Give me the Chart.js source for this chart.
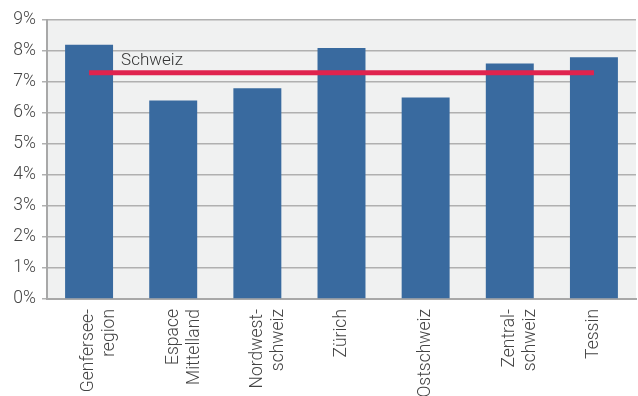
<!DOCTYPE html>
<html>
<head>
<meta charset="utf-8">
<script src="https://cdn.jsdelivr.net/npm/chart.js@4/dist/chart.umd.min.js"></script>
<style>
  html, body { margin: 0; padding: 0; background: #fff; }
  #wrap { width: 638px; height: 396px; }
</style>
</head>
<body>
<div id="wrap"><canvas id="chart"></canvas></div>
<script>
// Regionen und Werte
const regions = [
  ["Genfersee-", "region"],
  ["Espace", "Mittelland"],
  ["Nordwest-", "schweiz"],
  "Zürich",
  "Ostschweiz",
  ["Zentral-", "schweiz"],
  "Tessin"
];
const regionValues = [8.2, 6.4, 6.8, 8.1, 6.5, 7.6, 7.8];
const schweizValue = 7.3;
const schweizLabel = "Schweiz";
const yTicks = [0, 1, 2, 3, 4, 5, 6, 7, 8, 9];

const plotBg = {
  id: "plotBg",
  beforeDraw(chart) {
    const { ctx, chartArea: a } = chart;
    ctx.save();
    ctx.fillStyle = "#f0f1f1";
    ctx.fillRect(a.left, a.top, a.right - a.left, a.bottom - a.top);
    ctx.restore();
  }
};

const lineLabel = {
  id: "lineLabel",
  afterDatasetsDraw(chart) {
    const { ctx, scales } = chart;
    const x = scales.x.getPixelForValue(0) + 32;
    const y = scales.y.getPixelForValue(schweizValue) - 3;
    ctx.save();
    ctx.font = "300 17px Roboto";
    ctx.fillStyle = "#333";
    ctx.textBaseline = "bottom";
    ctx.fillText(schweizLabel, x, y);
    ctx.restore();
  }
};

const tickFont = { family: "Roboto", size: 17.5, weight: 300 };

new Chart(document.getElementById("chart").getContext("2d"), {
  data: {
    labels: regions,
    datasets: [
      {
        type: "line",
        data: regions.map(() => schweizValue),
        borderColor: "#e0234e",
        borderWidth: 5,
        pointRadius: 0,
        order: 0
      },
      {
        type: "bar",
        data: regionValues,
        backgroundColor: "#396a9f",
        barPercentage: 0.57,
        categoryPercentage: 1,
        order: 1
      }
    ]
  },
  options: {
    responsive: true,
    maintainAspectRatio: false,
    animation: false,
    layout: { padding: { top: 20, right: 2, left: 0, bottom: 0 } },
    plugins: {
      legend: { display: false },
      tooltip: { enabled: false }
    },
    scales: {
      x: {
        afterFit(axis) { axis.height = 97; },
        grid: { display: false, drawTicks: false },
        border: { color: "#a8a8a8", width: 2 },
        ticks: {
          color: "#444",
          font: tickFont,
          minRotation: 90,
          maxRotation: 90,
          autoSkip: false,
          padding: 10
        }
      },
      y: {
        min: 0,
        max: 9,
        afterFit(axis) { axis.width = 47; },
        afterBuildTicks(axis) { axis.ticks = yTicks.map(v => ({ value: v })); },
        grid: { color: "#b0b0b0", lineWidth: 1.5, tickLength: 5 },
        border: { color: "#a8a8a8", width: 2 },
        ticks: {
          color: "#444",
          font: tickFont,
          padding: 6,
          callback: v => v + "%"
        }
      }
    }
  },
  plugins: [plotBg, lineLabel]
});
</script>
</body>
</html>
